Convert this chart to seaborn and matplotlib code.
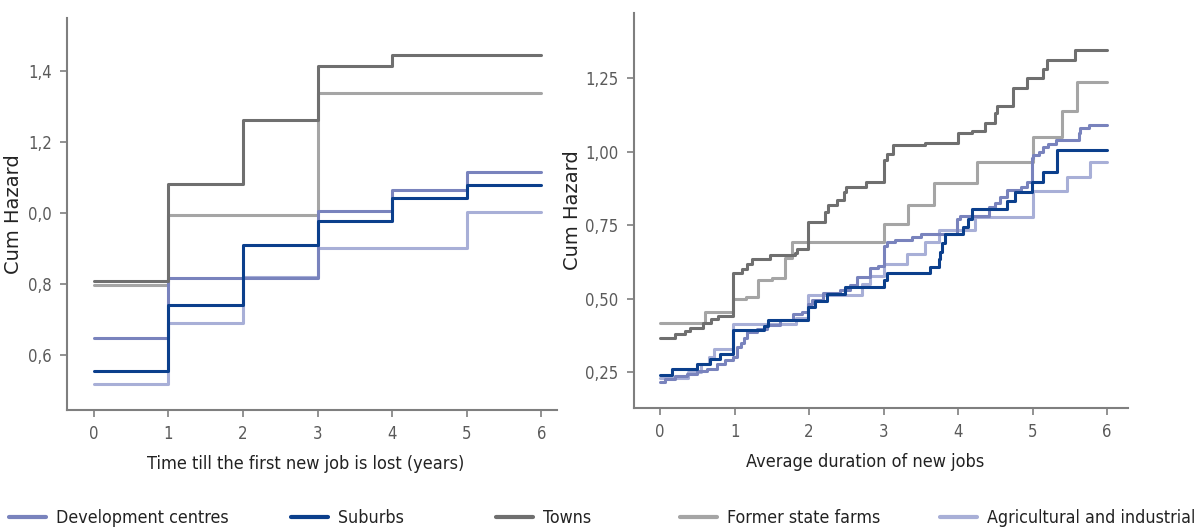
import matplotlib
matplotlib.use("Agg")
import matplotlib.pyplot as plt
import seaborn as sns
from matplotlib.lines import Line2D

sns.set_theme(style="white")
plt.rcParams['font.family'] = ['DejaVu Sans']
plt.rcParams['font.stretch'] = 'condensed'

# ---------------- data ----------------
names = ["Development centres", "Suburbs", "Towns", "Former state farms", "Agricultural and industrial"]
colors = {"Development centres": "#7983bd", "Suburbs": "#0b3f8c", "Towns": "#6f6f6f",
          "Former state farms": "#a5a5a5", "Agricultural and industrial": "#a8afd7"}

# left panel: time till first new job is lost (years)
left_x = [0, 1, 2, 3, 4, 5, 6]
left_towns = [0.808, 1.083, 1.263, 1.414, 1.445, 1.445, 1.445]
left_farms = [0.797, 0.994, 0.994, 1.338, 1.338, 1.338, 1.338]
left_dev = [0.649, 0.818, 0.818, 1.005, 1.065, 1.115, 1.115]
left_sub = [0.555, 0.741, 0.910, 0.977, 1.042, 1.079, 1.079]
left_agri = [0.517, 0.689, 0.819, 0.902, 0.902, 1.002, 1.002]
left_yticks = [0.6, 0.8, 1.0, 1.2, 1.4]
left_yticklabels = ["0,6", "0,8", "0,0", "1,2", "1,4"]

# right panel: average duration of new jobs
towns_x = [0, 0.20, 0.34, 0.40, 0.58, 0.69, 0.78, 0.98, 1.10, 1.16, 1.23, 1.48, 1.81, 1.84, 1.99,
           2.21, 2.25, 2.37, 2.47, 2.50, 2.77, 3.00, 3.05, 3.12, 3.55, 4.00, 4.18, 4.36, 4.50, 4.52,
           4.74, 4.92, 5.14, 5.19, 5.57, 6.0]
towns_y = [0.367, 0.378, 0.389, 0.400, 0.418, 0.429, 0.440, 0.586, 0.599, 0.616, 0.633, 0.648, 0.655,
           0.667, 0.761, 0.795, 0.818, 0.835, 0.863, 0.880, 0.897, 0.971, 0.991, 1.022, 1.028, 1.062,
           1.069, 1.098, 1.130, 1.155, 1.215, 1.249, 1.280, 1.311, 1.345, 1.345]
farms_x = [0, 0.60, 0.98, 1.15, 1.32, 1.50, 1.68, 1.77, 3.00, 3.33, 3.67, 4.25, 5.00, 5.39, 5.59, 6.0]
farms_y = [0.418, 0.456, 0.498, 0.506, 0.563, 0.570, 0.637, 0.693, 0.752, 0.819, 0.893, 0.966, 1.048,
           1.139, 1.237, 1.237]
dev_x = [0, 0.07, 0.20, 0.36, 0.50, 0.63, 0.76, 0.87, 0.98, 1.03, 1.08, 1.12, 1.16, 1.30, 1.43, 1.61,
         1.79, 1.90, 1.99, 2.04, 2.19, 2.42, 2.55, 2.64, 2.82, 2.92, 3.00, 3.05, 3.15, 3.38, 3.50, 3.98,
         4.03, 4.41, 4.50, 4.56, 4.65, 4.84, 4.92, 4.99, 5.01, 5.09, 5.14, 5.21, 5.31, 5.62, 5.64, 5.76, 6.0]
dev_y = [0.217, 0.228, 0.236, 0.245, 0.253, 0.262, 0.279, 0.290, 0.302, 0.336, 0.350, 0.365, 0.387,
         0.398, 0.410, 0.427, 0.448, 0.455, 0.483, 0.495, 0.518, 0.529, 0.546, 0.574, 0.603, 0.610,
         0.678, 0.692, 0.699, 0.710, 0.718, 0.772, 0.781, 0.810, 0.824, 0.846, 0.869, 0.880, 0.897,
         0.977, 0.988, 0.999, 1.014, 1.026, 1.039, 1.062, 1.079, 1.090, 1.090]
sub_x = [0, 0.16, 0.49, 0.67, 0.81, 0.98, 1.39, 1.45, 1.99, 2.08, 2.24, 2.48, 3.00, 3.05, 3.62, 3.74,
         3.76, 3.78, 3.82, 4.07, 4.13, 4.18, 4.65, 4.77, 4.99, 5.14, 5.33, 6.0]
sub_y = [0.240, 0.259, 0.277, 0.293, 0.311, 0.393, 0.406, 0.427, 0.472, 0.492, 0.516, 0.540, 0.563,
         0.588, 0.608, 0.633, 0.659, 0.688, 0.719, 0.744, 0.772, 0.803, 0.833, 0.863, 0.897, 0.931,
         1.005, 1.005]
agri_x = [0, 0.38, 0.55, 0.65, 0.72, 0.98, 1.83, 1.99, 2.71, 2.82, 3.00, 3.31, 3.56, 3.74, 4.23, 5.00,
          5.46, 5.77, 6.0]
agri_y = [0.230, 0.250, 0.278, 0.300, 0.330, 0.415, 0.435, 0.512, 0.550, 0.577, 0.616, 0.651, 0.693,
          0.733, 0.776, 0.866, 0.914, 0.965, 0.965]
right_yticks = [0.25, 0.50, 0.75, 1.00, 1.25]
right_yticklabels = ["0,25", "0,50", "0,75", "1,00", "1,25"]
xticks = [0, 1, 2, 3, 4, 5, 6]

# ---------------- figure ----------------
fig = plt.figure(figsize=(11.98, 5.27), dpi=100)
axL = fig.add_axes([67 / 1198, 1 - 410 / 527, 490 / 1198, 392 / 527])
axR = fig.add_axes([634 / 1198, 1 - 408 / 527, 494 / 1198, 395 / 527])

LW = 2.2
left_series = [("Agricultural and industrial", left_agri), ("Former state farms", left_farms),
               ("Development centres", left_dev), ("Towns", left_towns), ("Suburbs", left_sub)]
for name, ys in left_series:
    sns.lineplot(x=left_x, y=ys, ax=axL, color=colors[name], lw=LW, drawstyle="steps-post",
                 estimator=None, sort=False)

right_series = [("Agricultural and industrial", agri_x, agri_y), ("Former state farms", farms_x, farms_y),
                ("Development centres", dev_x, dev_y), ("Towns", towns_x, towns_y),
                ("Suburbs", sub_x, sub_y)]
for name, xs, ys in right_series:
    sns.lineplot(x=xs, y=ys, ax=axR, color=colors[name], lw=LW, drawstyle="steps-post",
                 estimator=None, sort=False)

axL.set_xlim(-0.36, 6.21)
axL.set_ylim(0.445, 1.55)
axL.set_yticks(left_yticks)
axL.set_yticklabels(left_yticklabels)
axR.set_xlim(-0.35, 6.28)
axR.set_ylim(0.128, 1.471)
axR.set_yticks(right_yticks)
axR.set_yticklabels(right_yticklabels)

spine_col = "#7f7f7f"
for ax, xl in [(axL, "Time till the first new job is lost (years)"), (axR, "Average duration of new jobs")]:
    ax.set_xticks(xticks)
    ax.set_xticklabels([str(t) for t in xticks])
    for s in ["top", "right"]:
        ax.spines[s].set_visible(False)
    for s in ["left", "bottom"]:
        ax.spines[s].set_color(spine_col)
        ax.spines[s].set_linewidth(1.5)
    ax.tick_params(axis="both", which="major", direction="out", length=5, width=1.2,
                   color=spine_col, labelsize=12, labelcolor="#5a5a5a", pad=6,
                   bottom=True, left=True)
    for lab in ax.get_xticklabels() + ax.get_yticklabels():
        lab.set_fontstretch("condensed")
    ax.set_ylabel("Cum Hazard", fontsize=14, color="#222222", family="DejaVu Sans",
                  fontstretch="normal")
    ax.set_xlabel(xl, fontsize=13, color="#222222", family="DejaVu Sans",
                  fontstretch="condensed", labelpad=9)
    ax.grid(False)

axL.yaxis.set_label_coords(-0.09, 0.5)
axR.yaxis.set_label_coords(-0.105, 0.5)
axL.xaxis.set_label_coords(0.488, -0.115)
axR.xaxis.set_label_coords(0.468, -0.115)

# legend: one entry per series, placed along the bottom
handle_x = [9, 291, 496, 680, 940]
for name, hx in zip(names, handle_x):
    h = Line2D([], [], color=colors[name], lw=LW + 0.8)
    fig.legend([h], [name], loc="center left", bbox_to_anchor=(hx / 1198, 1 - 518 / 527),
               frameon=False, borderpad=0, borderaxespad=0, handlelength=2.1, handletextpad=0.55,
               prop={"family": "DejaVu Sans", "stretch": "condensed", "size": 12.8},
               labelcolor="#222222")

fig.savefig("out.png", dpi=100)
